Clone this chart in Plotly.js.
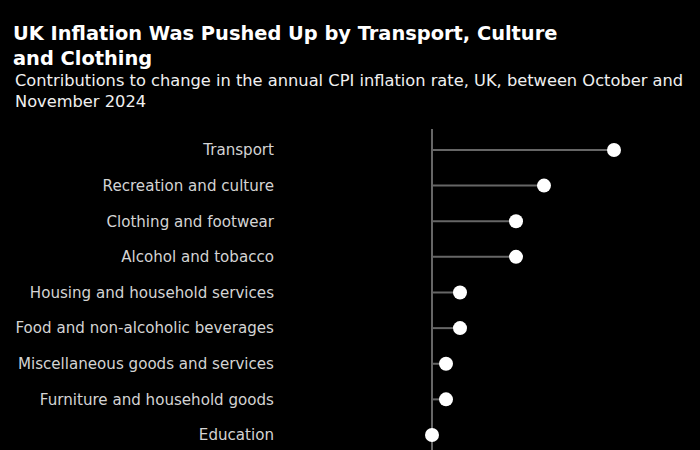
<!DOCTYPE html>
<html>
<head>
<meta charset="utf-8">
<script src="https://cdn.plot.ly/plotly-3.0.1.min.js"></script>
<style>html,body{margin:0;padding:0;background:#000;}#chart{width:700px;height:450px;}</style>
</head>
<body>
<div id="chart"></div>
<script>
const categories = [
  "Transport",
  "Recreation and culture",
  "Clothing and footwear",
  "Alcohol and tobacco",
  "Housing and household services",
  "Food and non-alcoholic beverages",
  "Miscellaneous goods and services",
  "Furniture and household goods",
  "Education"
];
const contributions = [0.13, 0.08, 0.06, 0.06, 0.02, 0.02, 0.01, 0.01, 0.00];

const FONT = '"DejaVu Sans", sans-serif';

const stemX = [], stemY = [];
categories.forEach((c, i) => {
  stemX.push(0, contributions[i], null);
  stemY.push(c, c, null);
});

const traces = [
  {
    type: 'scatter', mode: 'lines', x: stemX, y: stemY,
    line: {color: '#666666', width: 2}, hoverinfo: 'skip', showlegend: false
  },
  {
    type: 'scatter', mode: 'markers', x: contributions, y: categories,
    marker: {color: '#ffffff', size: 14, line: {width: 0}},
    cliponaxis: false, showlegend: false
  }
];

const layout = {
  width: 700, height: 450,
  paper_bgcolor: '#000', plot_bgcolor: '#000',
  margin: {l: 420, r: 10, t: 129, b: 0},
  font: {family: FONT, color: '#d4d4d4', size: 15},
  title: {
    text: '<b>UK Inflation Was Pushed Up by Transport, Culture<br>and Clothing</b>',
    font: {family: FONT, size: 19.4, color: '#ffffff'},
    x: 13/700, xanchor: 'left', xref: 'container',
    y: 1 - 40/450, yanchor: 'top', yref: 'container'
  },
  annotations: [{
    text: 'Contributions to change in the annual CPI inflation rate, UK, between October and<br>November 2024',
    xref: 'paper', yref: 'paper',
    x: (13 - 420) / 270, y: 1 + (129 - 69) / 321,
    xanchor: 'left', yanchor: 'top', align: 'left', showarrow: false,
    font: {family: FONT, size: 16.25, color: '#f0f0f0'}
  }],
  xaxis: {
    range: [-12/1400, 258/1400],
    showgrid: false, showticklabels: false, ticks: '',
    zeroline: true, zerolinecolor: '#666666', zerolinewidth: 2,
    fixedrange: true
  },
  yaxis: {
    type: 'category', categoryorder: 'array', categoryarray: categories,
    range: [8.421, -0.589],
    showgrid: false, zeroline: false, ticks: '', showline: false,
    ticklabelstandoff: 145,
    tickfont: {family: FONT, size: 15.1, color: '#d4d4d4'},
    fixedrange: true
  },
  showlegend: false
};

Plotly.newPlot('chart', traces, layout, {displayModeBar: false, staticPlot: true});
</script>
</body>
</html>
